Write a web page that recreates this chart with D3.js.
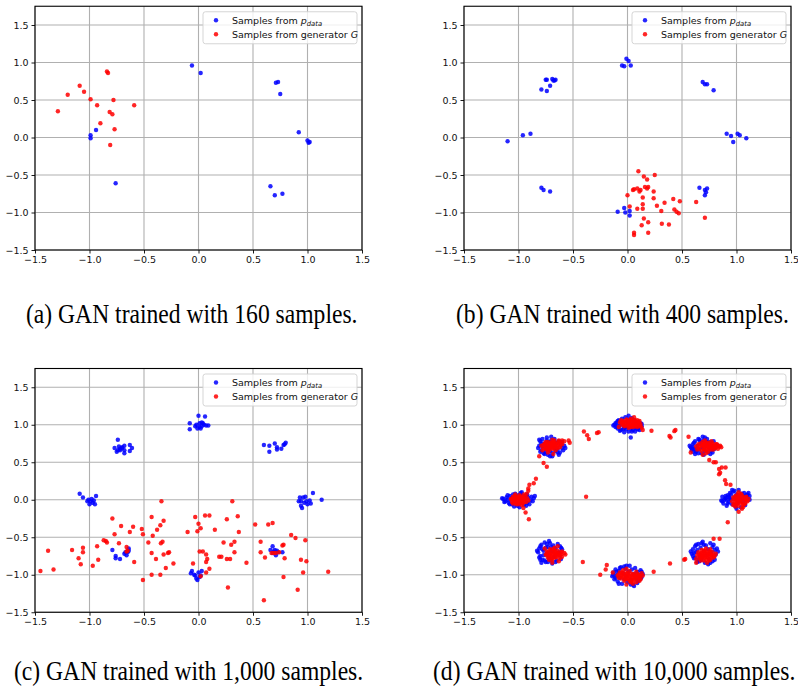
<!DOCTYPE html>
<html>
<head>
<meta charset="utf-8">
<script src="https://cdn.jsdelivr.net/npm/d3@7"></script>
<style>
  html, body { margin: 0; padding: 0; background: #fff; }
  svg { display: block; }
</style>
</head>
<body>
<svg id="chart" width="798" height="686"></svg>
<script>
// ---------------- DATA ----------------
const xTicks = [-1.5, -1.0, -0.5, 0.0, 0.5, 1.0, 1.5];
const yTicks = [-1.5, -1.0, -0.5, 0.0, 0.5, 1.0, 1.5];
const xDomain = [-1.5, 1.5];
const yDomain = [-1.5, 1.75];
const legendLabels = ["Samples from ", "Samples from generator "];
const captions = [
  "(a) GAN trained with 160 samples.",
  "(b) GAN trained with 400 samples.",
  "(c) GAN trained with 1,000 samples.",
  "(d) GAN trained with 10,000 samples."
];

// (a) 160 samples
const aBlue = [[-0.06,0.96],[0.02,0.86],[0.71,0.73],[0.73,0.74],[0.75,0.58],[0.92,0.07],[1.00,-0.04],[1.01,-0.07],[1.02,-0.06],
  [-0.99,0.03],[-0.99,-0.01],[-0.94,0.10],[-0.76,-0.61],[0.66,-0.65],[0.70,-0.77],[0.77,-0.75]];
const aRed = [[-0.84,0.88],[-0.83,0.86],[-1.09,0.69],[-1.05,0.61],[-1.20,0.57],[-0.99,0.51],[-0.78,0.50],[-0.93,0.43],
  [-0.59,0.43],[-1.29,0.35],[-0.815,0.34],[-0.79,0.31],[-0.90,0.19],[-0.77,0.11],[-0.81,-0.10]];

// (b) 400 samples
const bBlue = [[-0.01,1.05],[0.01,1.02],[-0.05,0.96],[-0.03,0.95],[0.03,0.96],
  [-0.75,0.77],[-0.74,0.77],[-0.69,0.78],[-0.67,0.76],[-0.66,0.77],[-0.68,0.76],[-0.71,0.69],[-0.79,0.64],[-0.74,0.62],
  [0.69,0.74],[0.71,0.71],[0.73,0.71],[0.79,0.63],
  [-1.10,-0.05],[-0.96,0.03],[-0.89,0.05],
  [0.91,0.05],[0.95,0.02],[0.97,-0.06],[1.01,0.05],[1.03,0.03],[1.09,-0.01],
  [-0.79,-0.67],[-0.77,-0.70],[-0.71,-0.72],
  [0.66,-0.67],[0.71,-0.70],[0.73,-0.68],[0.71,-0.77],[0.72,-0.73],
  [-0.09,-0.99],[-0.03,-0.94],[-0.02,-1.00],[0.02,-0.98],[0.02,-1.04]];
const bRed = [[0.10,-0.45],[0.15,-0.52],[0.18,-0.56],[0.25,-0.50],[0.00,-0.77],
  [0.05,-0.70],[0.06,-0.69],[0.09,-0.68],[0.11,-0.72],[0.12,-0.70],
  [0.16,-0.66],[0.18,-0.68],[0.19,-0.66],[0.24,-0.72],
  [0.14,-0.80],[0.24,-0.81],[0.42,-0.82],[0.48,-0.85],[0.34,-0.87],[0.63,-0.86],[0.14,-0.89],[0.27,-0.91],[0.02,-0.92],
  [0.09,-0.95],[0.14,-0.95],[0.31,-0.98],[0.43,-0.96],[0.45,-0.99],[0.47,-1.01],
  [0.15,-1.08],[0.19,-1.13],[0.13,-1.17],[0.315,-1.15],[0.38,-1.16],[0.71,-1.07],
  [0.06,-1.27],[0.06,-1.30],[0.19,-1.27]];

// (c) 1,000 samples
const cBlue = [[0.00,1.12],[0.06,1.11],[-0.08,1.02],[-0.08,0.94],[-0.03,0.98],[-0.01,0.95],[0.01,1.02],[0.03,1.03],[0.04,1.02],
  [0.03,0.98],[0.05,1.00],[0.07,0.99],[0.09,0.99],[0.01,0.97],[-0.02,1.00],[0.02,0.95],
  [-0.74,0.80],[-0.77,0.69],[-0.75,0.64],[-0.73,0.71],[-0.72,0.68],[-0.70,0.70],[-0.68,0.66],[-0.68,0.72],[-0.68,0.62],
  [-0.72,0.66],[-0.63,0.73],[-0.63,0.65],[-0.61,0.69],[-0.70,0.69],[-0.74,0.66],
  [0.60,0.73],[0.65,0.72],[0.65,0.64],[0.70,0.75],[0.72,0.70],[0.72,0.67],[0.76,0.68],[0.78,0.73],[0.80,0.76],[0.79,0.74],
  [-1.09,0.08],[-1.06,0.03],[-1.01,0.00],[-1.00,-0.06],[-0.96,-0.01],[-0.94,0.05],[-0.97,-0.04],[-0.99,-0.02],[-0.95,-0.06],
  [-1.02,-0.02],[-0.98,0.01],
  [0.93,0.03],[0.96,0.03],[0.98,0.04],[0.94,-0.02],[0.97,-0.04],[0.95,-0.11],[0.94,-0.08],[0.99,-0.02],[1.02,-0.01],
  [1.03,-0.05],[1.05,0.09],[1.13,0.00],[0.92,-0.02],[1.00,-0.06],
  [-0.79,-0.67],[-0.76,-0.75],[-0.76,-0.78],[-0.72,-0.79],[-0.67,-0.70],[-0.65,-0.70],[-0.64,-0.65],[-0.66,-0.74],
  [-0.68,-0.72],[-0.64,-0.68],
  [0.68,-0.62],[0.66,-0.67],[0.68,-0.71],[0.70,-0.67],[0.71,-0.74],[0.73,-0.70],[0.77,-0.70],[0.69,-0.69],[0.72,-0.68],
  [-0.06,-0.95],[-0.07,-0.98],[-0.03,-1.01],[-0.02,-1.05],[-0.01,-1.07],[0.01,-1.03],[0.03,-0.95],[0.00,-0.97],
  [-0.04,-1.00],[0.02,-1.01]];
const cRed = [[-1.45,-0.95],[-1.38,-0.68],[-1.33,-0.93],[-1.16,-0.67],[-1.10,-0.78],[-1.08,-0.86],[-1.06,-0.64],[-1.06,-0.70],
  [-0.97,-0.88],[-0.93,-0.62],[-0.92,-0.80],[-0.79,-0.25],[-0.77,-0.46],[-0.87,-0.54],[-0.85,-0.55],[-0.84,-0.57],
  [-0.71,-0.35],[-0.73,-0.58],[-0.63,-0.43],[-0.60,-0.36],[-0.66,-0.63],[-0.65,-0.68],[-0.66,-0.69],[-0.59,-0.83],
  [-0.52,-0.39],[-0.51,-0.46],[-0.51,-1.07],[-0.46,-0.57],[-0.43,-0.23],[-0.42,-0.48],[-0.43,-0.71],[-0.43,-1.00],
  [-0.39,-0.79],[-0.38,-0.40],[-0.35,-0.34],[-0.34,-0.02],[-0.345,-0.58],[-0.33,-0.56],[-0.32,-0.28],[-0.32,-0.73],
  [-0.35,-1.00],[-0.30,-0.91],[-0.28,-0.71],[-0.27,-0.70],[-0.23,-0.85],[-0.10,-0.43],[-0.05,-0.85],[-0.03,-0.23],
  [-0.01,-0.42],[0.00,-0.32],[0.02,-0.38],[0.01,-0.69],[0.04,-0.69],[0.06,-0.21],[0.10,-0.21],[0.07,-0.73],[0.07,-0.83],
  [0.08,-0.79],[0.07,-0.97],[0.10,-0.92],[0.15,-0.40],[0.02,-1.02],[0.19,-0.76],[0.21,-0.76],[0.23,-0.57],[0.26,-0.26],
  [0.26,-0.79],[0.29,-0.79],[0.27,-1.17],[0.30,-0.60],[0.31,-0.02],[0.33,-0.70],[0.33,-0.56],[0.36,-0.22],[0.37,-0.43],
  [0.44,-0.84],[0.52,-0.33],[0.57,-0.56],[0.57,-0.70],[0.61,-0.77],[0.60,-1.34],[0.64,-0.33],[0.68,-0.31],
  [0.67,-0.71],[0.69,-0.71],[0.71,-0.71],[0.74,-0.70],[0.77,-0.61],[0.78,-0.60],[0.78,-1.03],[0.79,-0.78],[0.85,-0.47],
  [0.89,-0.51],[0.91,-1.20],[0.94,-0.80],[0.98,-0.54],[0.99,-0.82],[0.96,-0.97],[1.19,-0.96]];

// (d) 10,000 samples (dense clusters, read as representative points)
const dBlue = [
  // top
  [-0.12,1.00],[-0.11,0.97],[-0.10,1.03],[-0.09,0.95],[-0.08,1.06],[-0.07,0.99],[-0.06,0.93],[-0.05,1.08],[-0.04,1.01],
  [-0.03,0.96],[-0.02,1.10],[-0.01,0.94],[0.00,1.04],[0.01,0.91],[0.02,1.07],[0.03,0.83],[0.03,0.95],[0.04,1.09],
  [0.05,0.93],[0.06,1.06],[0.07,0.96],[0.08,1.03],[0.09,0.94],[0.10,1.00],[0.11,0.97],[0.12,1.02],[0.13,0.98],
  [-0.11,1.02],[-0.06,1.02],[0.07,0.91],[-0.03,0.90],[0.10,0.95],[0.00,0.97],[-0.08,0.98],[0.05,1.01],
  [-0.13,0.99],[-0.10,0.98],[-0.09,1.05],[0.11,0.93],[0.13,1.01],[-0.04,0.94],[0.04,0.91],[0.01,1.12],[-0.07,0.92],
  // top-left
  [-0.81,0.72],[-0.80,0.78],[-0.79,0.66],[-0.78,0.81],[-0.77,0.62],[-0.76,0.75],[-0.75,0.69],[-0.74,0.83],[-0.73,0.60],
  [-0.72,0.77],[-0.71,0.65],[-0.70,0.79],[-0.69,0.62],[-0.68,0.72],[-0.67,0.81],[-0.66,0.65],[-0.65,0.76],[-0.64,0.68],
  [-0.63,0.78],[-0.62,0.63],[-0.61,0.73],[-0.60,0.69],[-0.59,0.66],[-0.58,0.72],[-0.63,0.60],[-0.71,0.58],[-0.79,0.75],
  [-0.75,0.64],[-0.67,0.69],[-0.73,0.71],[-0.80,0.64],[-0.70,0.84],
  [-0.82,0.69],[-0.78,0.71],[-0.76,0.61],[-0.64,0.63],[-0.60,0.77],[-0.57,0.69],[-0.69,0.58],[-0.74,0.79],[-0.81,0.80],
  // top-right
  [0.58,0.70],[0.59,0.66],[0.60,0.74],[0.61,0.68],[0.62,0.78],[0.63,0.64],[0.64,0.72],[0.65,0.81],[0.66,0.67],
  [0.67,0.75],[0.68,0.62],[0.69,0.70],[0.70,0.79],[0.71,0.65],[0.72,0.74],[0.73,0.81],[0.74,0.63],[0.75,0.69],
  [0.76,0.77],[0.77,0.66],[0.78,0.72],[0.79,0.78],[0.80,0.68],[0.62,0.61],[0.66,0.80],[0.70,0.60],[0.73,0.77],
  [0.64,0.68],[0.69,0.84],[0.60,0.64],[0.78,0.63],[0.82,0.73],
  [0.57,0.72],[0.59,0.68],[0.61,0.76],[0.63,0.66],[0.65,0.62],[0.67,0.78],[0.71,0.83],[0.76,0.61],[0.60,0.70],
  // left
  [-1.14,0.01],[-1.12,-0.02],[-1.11,0.03],[-1.09,-0.04],[-1.08,0.05],[-1.07,0.00],[-1.06,-0.06],[-1.05,0.07],[-1.03,-0.03],
  [-1.02,0.04],[-1.01,-0.08],[-1.00,0.06],[-0.99,-0.05],[-0.98,0.09],[-0.97,-0.02],[-0.96,0.05],[-0.95,-0.07],[-0.94,0.02],
  [-0.93,0.06],[-0.92,-0.04],[-0.91,0.03],[-0.89,-0.01],[-0.88,0.04],[-0.86,0.02],[-1.04,-0.09],[-0.99,-0.10],[-1.10,0.06],
  [-0.97,0.10],[-1.06,0.02],[-0.90,-0.06],
  [-1.13,-0.03],[-1.10,0.00],[-1.08,-0.06],[-0.92,0.07],[-0.87,-0.02],[-0.93,-0.08],[-1.03,0.08],[-0.85,0.05],[-1.15,0.02],
  // right
  [0.86,-0.01],[0.87,0.04],[0.88,-0.05],[0.90,0.02],[0.91,-0.08],[0.92,0.06],[0.93,-0.03],[0.94,0.09],[0.95,0.00],
  [0.96,-0.06],[0.97,0.11],[0.98,0.03],[0.99,-0.09],[1.00,0.07],[1.01,-0.04],[1.02,0.13],[1.03,0.01],[1.04,-0.10],
  [1.05,0.08],[1.06,-0.02],[1.07,0.04],[1.08,-0.07],[1.09,0.06],[1.10,0.02],[1.11,0.09],[1.12,0.05],[0.93,0.04],
  [0.89,0.00],[1.00,-0.12],[0.96,0.13],
  [0.87,-0.02],[0.90,0.05],[0.92,-0.05],[0.94,0.02],[0.95,0.07],[1.10,0.07],[1.12,0.00],[1.07,0.09],[0.91,0.00],[0.98,0.12],
  // bottom-left
  [-0.82,-0.70],[-0.81,-0.65],[-0.80,-0.75],[-0.79,-0.60],[-0.78,-0.80],[-0.77,-0.68],[-0.76,-0.57],[-0.75,-0.83],[-0.74,-0.72],
  [-0.73,-0.63],[-0.72,-0.78],[-0.71,-0.58],[-0.70,-0.69],[-0.69,-0.85],[-0.68,-0.61],[-0.67,-0.76],[-0.66,-0.65],[-0.65,-0.81],
  [-0.64,-0.59],[-0.63,-0.70],[-0.62,-0.62],[-0.61,-0.79],[-0.60,-0.66],[-0.79,-0.84],[-0.75,-0.64],[-0.81,-0.77],[-0.72,-0.55],
  [-0.66,-0.83],[-0.77,-0.74],[-0.70,-0.81],
  [-0.83,-0.68],[-0.80,-0.62],[-0.78,-0.66],[-0.74,-0.59],[-0.70,-0.63],[-0.80,-0.80],[-0.76,-0.81],[-0.61,-0.64],[-0.73,-0.83],
  // bottom-right
  [0.59,-0.72],[0.60,-0.66],[0.61,-0.78],[0.62,-0.62],[0.63,-0.70],[0.64,-0.83],[0.65,-0.59],[0.66,-0.75],[0.67,-0.64],
  [0.68,-0.80],[0.69,-0.56],[0.70,-0.69],[0.71,-0.84],[0.72,-0.61],[0.73,-0.73],[0.74,-0.66],[0.75,-0.79],[0.76,-0.58],
  [0.77,-0.70],[0.78,-0.63],[0.79,-0.76],[0.80,-0.67],[0.81,-0.73],[0.83,-0.69],[0.62,-0.77],[0.66,-0.82],[0.74,-0.86],
  [0.70,-0.60],[0.64,-0.67],[0.78,-0.82],
  [0.58,-0.69],[0.60,-0.75],[0.63,-0.60],[0.65,-0.80],[0.68,-0.58],[0.79,-0.60],[0.82,-0.65],[0.80,-0.80],[0.61,-0.71],[0.76,-0.84],
  // bottom
  [-0.14,-1.02],[-0.13,-0.97],[-0.12,-1.06],[-0.11,-0.93],[-0.10,-1.01],[-0.09,-1.09],[-0.08,-0.95],[-0.07,-1.04],[-0.06,-0.90],
  [-0.05,-1.12],[-0.04,-0.98],[-0.03,-1.06],[-0.02,-0.92],[-0.01,-1.02],[0.00,-1.10],[0.01,-0.96],[0.02,-0.88],[0.03,-1.07],
  [0.04,-0.93],[0.05,-1.13],[0.06,-0.99],[0.07,-0.91],[0.08,-1.05],[0.09,-0.96],[0.10,-1.08],[0.11,-1.00],[0.12,-0.94],
  [0.13,-1.03],[0.14,-0.99],[-0.08,-1.12],[0.06,-1.15],[-0.03,-0.89],
  [-0.13,-1.00],[-0.11,-1.04],[-0.10,-0.96],[-0.07,-0.91],[0.09,-1.11],[0.12,-1.05],[0.13,-0.96],[-0.01,-0.88],[0.03,-1.13]
];
const dRed = [
  // top
  [-0.07,1.03],[-0.05,1.00],[-0.04,1.05],[-0.03,0.98],[-0.02,1.02],[-0.01,1.07],[0.00,0.99],[0.01,1.04],[0.02,1.01],
  [0.03,1.08],[0.03,0.97],[0.04,1.03],[0.05,1.00],[0.06,1.05],[0.07,0.98],[0.08,1.02],[0.09,1.00],[0.10,1.04],
  [0.11,0.99],[0.12,1.01],[0.13,0.96],[-0.08,0.97],[0.01,0.96],[0.06,1.10],[0.00,1.03],[0.05,0.97],[0.09,1.06],
  [-0.04,1.01],[0.14,0.93],
  [-0.06,1.06],[-0.03,1.04],[-0.02,0.99],[0.00,1.06],[0.02,1.05],[0.02,0.98],[0.04,1.06],[0.04,0.99],[0.06,1.02],
  [0.07,1.06],[0.08,0.99],[0.10,1.02],[0.11,1.05],[0.12,0.98],[0.01,1.00],[-0.05,1.03],[0.07,1.00],[0.09,0.97],
  // top-left
  [-0.79,0.72],[-0.77,0.69],[-0.76,0.75],[-0.75,0.71],[-0.74,0.67],[-0.73,0.77],[-0.72,0.73],[-0.71,0.70],[-0.70,0.76],
  [-0.69,0.68],[-0.68,0.74],[-0.67,0.79],[-0.66,0.71],[-0.65,0.75],[-0.64,0.69],[-0.63,0.77],[-0.62,0.73],[-0.61,0.76],
  [-0.72,0.66],[-0.69,0.80],[-0.66,0.66],[-0.74,0.74],[-0.70,0.72],[-0.78,0.66],[-0.73,0.63],[-0.68,0.61],[-0.63,0.79],
  [-0.58,0.78],[-0.53,0.76],
  [-0.77,0.73],[-0.75,0.77],[-0.74,0.70],[-0.73,0.74],[-0.72,0.69],[-0.71,0.76],[-0.70,0.70],[-0.69,0.74],[-0.68,0.77],
  [-0.67,0.72],[-0.66,0.75],[-0.65,0.70],[-0.64,0.74],[-0.62,0.70],[-0.71,0.73],[-0.68,0.69],[-0.75,0.68],[-0.60,0.74],
  // top-right
  [0.63,0.71],[0.65,0.74],[0.66,0.68],[0.68,0.72],[0.69,0.77],[0.70,0.69],[0.71,0.74],[0.72,0.66],[0.73,0.71],
  [0.74,0.76],[0.75,0.68],[0.76,0.73],[0.77,0.70],[0.78,0.75],[0.79,0.67],[0.80,0.72],[0.81,0.70],[0.82,0.74],
  [0.84,0.71],[0.86,0.70],[0.71,0.79],[0.74,0.64],[0.68,0.65],[0.83,0.68],[0.77,0.78],[0.64,0.67],[0.69,0.60],[0.72,0.62],
  [0.66,0.71],[0.67,0.75],[0.69,0.73],[0.70,0.67],[0.71,0.71],[0.72,0.76],[0.73,0.68],[0.74,0.72],[0.75,0.75],
  [0.76,0.70],[0.77,0.67],[0.78,0.73],[0.79,0.71],[0.80,0.69],[0.82,0.71],[0.83,0.72],[0.85,0.72],[0.75,0.72],[0.70,0.74],[0.81,0.74],
  // left
  [-1.07,0.01],[-1.06,-0.03],[-1.05,0.04],[-1.04,-0.01],[-1.03,0.05],[-1.02,-0.04],[-1.01,0.02],[-1.00,-0.06],[-0.99,0.06],
  [-0.98,-0.02],[-0.97,0.03],[-0.96,-0.05],[-0.95,0.01],[-0.94,0.05],[-0.93,-0.03],[-0.92,0.02],[-1.00,0.00],[-0.97,-0.07],
  [-1.03,0.07],[-0.95,0.07],[-1.05,-0.05],[-0.91,-0.01],
  [-1.06,0.01],[-1.05,0.02],[-1.04,-0.03],[-1.03,0.01],[-1.02,0.03],[-1.01,-0.02],[-0.99,0.02],[-0.98,0.04],[-0.97,0.00],
  [-0.96,0.03],[-0.95,-0.03],[-0.94,0.01],[-0.99,-0.04],[-1.02,-0.06],[-0.96,-0.01],[-1.00,0.04],
  // right
  [0.96,-0.02],[0.97,0.03],[0.98,-0.06],[0.99,0.05],[1.00,-0.01],[1.01,0.07],[1.02,-0.08],[1.03,0.02],[1.04,-0.04],
  [1.05,0.06],[1.06,-0.10],[1.07,0.01],[1.08,-0.05],[1.09,0.04],[1.10,-0.02],[1.02,0.10],[0.99,-0.09],[1.05,-0.12],
  [1.01,0.02],[0.97,-0.07],[1.04,0.08],[1.08,0.00],
  [0.98,0.01],[0.99,-0.03],[1.00,0.03],[1.01,-0.05],[1.02,0.04],[1.03,-0.02],[1.04,0.01],[1.05,-0.03],[1.06,0.03],
  [1.07,-0.06],[1.08,0.03],[1.09,-0.01],[1.02,-0.01],[1.00,-0.06],[1.06,-0.07],[1.03,0.05],[1.11,0.01],
  // bottom-left
  [-0.75,-0.73],[-0.74,-0.69],[-0.73,-0.77],[-0.72,-0.71],[-0.71,-0.66],[-0.70,-0.75],[-0.69,-0.80],[-0.68,-0.70],[-0.67,-0.64],
  [-0.66,-0.77],[-0.65,-0.72],[-0.64,-0.68],[-0.63,-0.82],[-0.62,-0.74],[-0.61,-0.70],[-0.60,-0.76],[-0.69,-0.84],[-0.64,-0.62],
  [-0.58,-0.71],[-0.72,-0.80],[-0.67,-0.72],[-0.57,-0.73],[-0.76,-0.65],
  [-0.74,-0.74],[-0.73,-0.70],[-0.72,-0.75],[-0.71,-0.72],[-0.70,-0.68],[-0.69,-0.73],[-0.68,-0.77],[-0.67,-0.68],[-0.66,-0.73],
  [-0.65,-0.76],[-0.64,-0.71],[-0.63,-0.74],[-0.62,-0.78],[-0.61,-0.73],[-0.66,-0.70],[-0.70,-0.78],[-0.68,-0.66],[-0.60,-0.69],
  // bottom-right
  [0.64,-0.74],[0.65,-0.70],[0.66,-0.78],[0.67,-0.72],[0.68,-0.67],[0.69,-0.76],[0.70,-0.81],[0.71,-0.71],[0.72,-0.65],
  [0.73,-0.77],[0.74,-0.73],[0.75,-0.69],[0.76,-0.80],[0.77,-0.74],[0.78,-0.70],[0.79,-0.77],[0.70,-0.75],[0.73,-0.84],
  [0.67,-0.81],[0.81,-0.72],[0.63,-0.79],[0.76,-0.66],
  [0.66,-0.73],[0.67,-0.76],[0.68,-0.71],[0.69,-0.73],[0.70,-0.68],[0.71,-0.77],[0.72,-0.73],[0.73,-0.70],[0.74,-0.76],
  [0.75,-0.73],[0.76,-0.71],[0.77,-0.77],[0.78,-0.74],[0.72,-0.80],[0.68,-0.78],[0.75,-0.81],[0.80,-0.75],[0.71,-0.68],
  // bottom
  [-0.09,-1.01],[-0.07,-0.97],[-0.06,-1.05],[-0.05,-1.00],[-0.04,-0.94],[-0.03,-1.08],[-0.02,-1.03],[-0.01,-0.98],[0.00,-1.06],
  [0.01,-1.01],[0.02,-0.95],[0.03,-1.09],[0.04,-1.04],[0.05,-0.99],[0.06,-1.07],[0.07,-1.02],[0.08,-0.96],[0.09,-1.05],
  [0.10,-1.00],[0.11,-1.08],[0.12,-1.03],[0.13,-0.98],[0.14,-1.01],[0.05,-1.12],[-0.01,-0.92],[0.08,-1.10],[-0.08,-1.04],
  [-0.08,-1.00],[-0.06,-1.02],[-0.05,-0.97],[-0.04,-1.03],[-0.03,-0.99],[-0.02,-1.06],[-0.01,-1.02],[0.00,-0.98],[0.01,-1.05],
  [0.02,-1.02],[0.03,-0.99],[0.04,-1.07],[0.05,-1.03],[0.06,-1.00],[0.07,-1.05],[0.08,-1.02],[0.09,-0.99],[0.10,-1.04],
  [0.11,-1.01],[0.12,-1.06],[0.02,-1.08],
  // outliers along the ring
  [-0.40,0.91],[-0.37,0.86],[-0.355,0.81],[-0.28,0.89],[-0.265,0.90],[-0.60,0.79],[-0.54,0.79],
  [-0.81,0.58],[-0.77,0.49],[-0.74,0.44],[-0.84,0.28],[-0.86,0.22],[-0.90,0.20],[-0.91,0.15],[-0.91,0.12],[-0.925,0.08],
  [-0.38,0.04],[-0.955,-0.11],[-0.935,-0.17],[-0.905,-0.26],
  [0.22,0.92],[0.385,0.85],[0.395,0.83],[0.43,0.915],[0.44,0.93],[0.56,0.84],[0.58,0.63],
  [0.75,0.53],[0.79,0.50],[0.81,0.50],[0.865,0.43],[0.84,0.41],[0.90,0.43],[0.85,0.36],
  [0.84,0.34],[0.895,0.26],[0.905,0.21],[0.945,0.20],[1.02,-0.16],[0.92,-0.30],[0.79,-0.52],[0.845,-0.52],
  [0.53,-0.79],[0.52,-0.80],[0.39,-0.85],[0.63,-0.84],[0.24,-0.96],
  [-0.41,-0.83],[-0.19,-0.87],[-0.20,-0.93],[-0.25,-1.00],[-0.135,-0.97],[-0.01,-1.13],[0.03,-1.10]
];

// ---------------- LAYOUT ----------------
const panels = [
  { blue: aBlue, red: aRed, left: 35,  width: 327, top: 6.25,  height: 243.75, caption: captions[0], capX: 26,  capY: 323 },
  { blue: bBlue, red: bRed, left: 464, width: 327, top: 6.25,  height: 243.75, caption: captions[1], capX: 456, capY: 323 },
  { blue: cBlue, red: cRed, left: 35,  width: 327, top: 368.5, height: 243.75, caption: captions[2], capX: 14,  capY: 680 },
  { blue: dBlue, red: dRed, left: 464, width: 327, top: 368.5, height: 243.75, caption: captions[3], capX: 433, capY: 680 }
];

const svg = d3.select("#chart");
const BLUE = "#0000ff", RED = "#ff0000";
const fmt = d3.format(".1f");

panels.forEach(p => {
  const g = svg.append("g").attr("transform", `translate(${p.left},${p.top})`);
  const x = d3.scaleLinear().domain(xDomain).range([0, p.width]);
  const y = d3.scaleLinear().domain(yDomain).range([p.height, 0]);

  // grid
  g.append("g").selectAll("line.gx").data(xTicks).join("line")
    .attr("x1", d => x(d)).attr("x2", d => x(d)).attr("y1", 0).attr("y2", p.height)
    .attr("stroke", "#b0b0b0").attr("stroke-width", 1.1);
  g.append("g").selectAll("line.gy").data(yTicks).join("line")
    .attr("y1", d => y(d)).attr("y2", d => y(d)).attr("x1", 0).attr("x2", p.width)
    .attr("stroke", "#b0b0b0").attr("stroke-width", 1.1);

  // points
  g.append("g").selectAll("circle").data(p.blue).join("circle")
    .attr("cx", d => x(d[0])).attr("cy", d => y(d[1])).attr("r", 2.2)
    .attr("fill", BLUE).attr("fill-opacity", 0.85);
  g.append("g").selectAll("circle").data(p.red).join("circle")
    .attr("cx", d => x(d[0])).attr("cy", d => y(d[1])).attr("r", 2.2)
    .attr("fill", RED).attr("fill-opacity", 0.85);

  // axes
  const xa = g.append("g").attr("transform", `translate(0,${p.height})`)
    .call(d3.axisBottom(x).tickValues(xTicks).tickFormat(fmt).tickSize(3.5).tickPadding(3));
  const ya = g.append("g")
    .call(d3.axisLeft(y).tickValues(yTicks).tickFormat(fmt).tickSize(3.5).tickPadding(3));
  [xa, ya].forEach(a => {
    a.select(".domain").remove();
    a.selectAll("text").attr("font-family", "DejaVu Sans").attr("font-size", 9.5).attr("fill", "#111");
    a.selectAll("line").attr("stroke", "#000").attr("stroke-width", 0.9);
  });

  // frame
  g.append("rect").attr("x", 0).attr("y", 0).attr("width", p.width).attr("height", p.height)
    .attr("fill", "none").attr("stroke", "#000").attr("stroke-width", 1.1);

  // legend
  const lw = 154, lh = 32;
  const lg = g.append("g").attr("transform", `translate(${p.width - lw - 5},${5.5})`);
  lg.append("rect").attr("width", lw).attr("height", lh).attr("rx", 2.5)
    .attr("fill", "#fff").attr("fill-opacity", 0.8).attr("stroke", "#d0d0d0").attr("stroke-width", 0.9);
  const rows = [
    { color: BLUE, label: legendLabels[0], sym: "p", sub: "data" },
    { color: RED,  label: legendLabels[1], sym: "G", sub: null }
  ];
  rows.forEach((r, i) => {
    const cy = 8.5 + i * 14;
    lg.append("circle").attr("cx", 13).attr("cy", cy).attr("r", 2.2).attr("fill", r.color).attr("fill-opacity", 0.85);
    const t = lg.append("text").attr("x", 29).attr("y", cy + 3.4)
      .attr("font-family", "DejaVu Sans").attr("font-size", 9.5).attr("fill", "#111");
    t.append("tspan").text(r.label);
    t.append("tspan").attr("font-style", "italic").text(r.sym);
    if (r.sub) {
      t.append("tspan").attr("font-style", "italic").attr("font-size", 6.8).attr("dy", 2).text(r.sub);
    }
  });

  // caption (Times-like, slightly tall as in the reference)
  svg.append("text")
    .attr("transform", `translate(${p.capX},${p.capY}) scale(1,1.16)`)
    .attr("font-family", "Liberation Serif").attr("font-size", 23.6).attr("fill", "#000")
    .text(p.caption);
});
</script>
</body>
</html>
